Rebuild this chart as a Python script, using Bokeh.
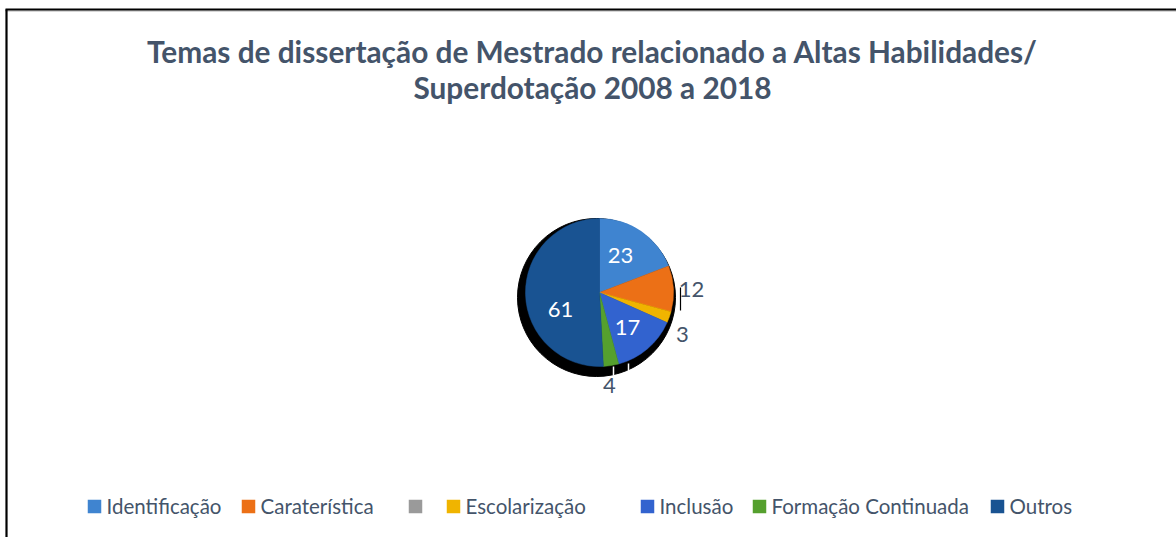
import math
from bokeh.plotting import figure
from bokeh.models import Range1d, ColumnDataSource
from bokeh.embed import file_html
from bokeh.resources import INLINE
from bokeh.core.properties import value

# ---- data ----
categories = ["Identificação", "Caraterística", "", "Escolarização", "Inclusão", "Formação Continuada", "Outros"]
counts = [23, 12, 0, 3, 17, 4, 61]
colors = ["#3f84d0", "#ec7016", "#9a9a9a", "#f0b400", "#3263cf", "#55a02e", "#195392"]
title_lines = ["Temas de dissertação de Mestrado relacionado a Altas Habilidades/",
               "Superdotação 2008 a 2018"]

# ---- layout (screen px of the page) ----
W, H = 1176, 537
def sx(X): return X
def sy(Y): return H - Y

FONT = "Lato"
TXT = "#44546a"

p = figure(width=W, height=H, x_range=Range1d(0, W), y_range=Range1d(0, H),
           output_backend="svg", toolbar_location=None, min_border=0,
           x_axis_type=None, y_axis_type=None)
p.grid.visible = False
p.outline_line_color = None
p.background_fill_color = "white"

# frame lines (top and left)
p.segment(x0=[sx(5), sx(6)], y0=[sy(10.5), sy(9)], x1=[sx(W), sx(6)], y1=[sy(10.5), sy(H)],
          line_color=["#b0b0b0", "black"], line_width=[1, 2.2])
p.segment(x0=[sx(5)], y0=[sy(9)], x1=[sx(W)], y1=[sy(9)], line_color="black", line_width=2.2)

# title
p.text(x=[sx(592)] * 2, y=[sy(51), sy(87)], text=title_lines, text_align="center",
       text_baseline="middle", text_font=value(FONT), text_font_style="bold",
       text_font_size="29.8px", text_color=TXT)

# pie
cx, cy, R = sx(599), sy(292), 74
total = sum(counts)
starts, ends, cols, cats = [], [], [], []
cum = 0
for c, col, cat in zip(counts, colors, categories):
    a0 = math.pi / 2 - 2 * math.pi * cum / total
    cum += c
    a1 = math.pi / 2 - 2 * math.pi * cum / total
    if c > 0:
        starts.append(a0); ends.append(a1); cols.append(col); cats.append(cat)
src = ColumnDataSource(dict(start=starts, end=ends, color=cols, cat=cats))

# shadow
p.circle(x=[sx(596)], y=[sy(297)], radius=79, fill_color="black", line_color="black")
p.wedge(x=cx, y=cy, radius=R, start_angle="start", end_angle="end", direction="clock",
        fill_color="color", line_color="color", line_width=0.5, source=src)

# leader lines
p.segment(x0=[sx(680)], y0=[sy(287)], x1=[sx(680)], y1=[sy(310)], line_color="black", line_width=1.2)
p.segment(x0=[sx(613), sx(628)], y0=[sy(366), sy(363)], x1=[sx(613), sx(628)], y1=[sy(375), sy(375)],
          line_color="white", line_width=1.5)

# data labels
label_pos = {0: (620, 255, "white"), 1: (691, 289, TXT), 3: (682, 334, TXT),
             4: (627, 327, "white"), 5: (609, 385, TXT), 6: (560, 309, "white")}
lx, ly, lt, lc = [], [], [], []
for i, (X, Y, col) in label_pos.items():
    lx.append(sx(X)); ly.append(sy(Y)); lt.append(str(counts[i])); lc.append(col)
p.text(x=lx, y=ly, text=lt, text_color=lc, text_align="center", text_baseline="middle",
       text_font=value(FONT), text_font_size="22px")

# legend
legend_x = [94, 248, 415, 453, 647, 759, 997]
p.rect(x=[sx(v) for v in legend_x], y=[sy(506)] * 7, width=13.5, height=13.5,
       fill_color=colors, line_color=None)
p.text(x=[sx(v) + 12 for v in legend_x], y=[sy(505)] * 7, text=categories,
       text_align="left", text_baseline="middle", text_font=value(FONT),
       text_font_size="20.5px", text_color=TXT)

open("out.html", "w").write(file_html(p, INLINE))
